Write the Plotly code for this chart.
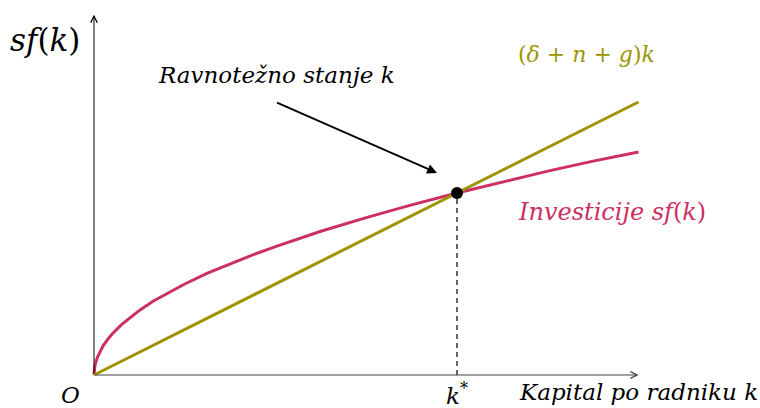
import plotly.graph_objects as go

# Solow steady-state diagram: investment curve sf(k) vs. break-even line (δ+n+g)k
capital = [0, 0.0025, 0.01, 0.02, 0.04, 0.07, 0.1, 0.15, 0.2, 0.3, 0.4, 0.5, 0.65, 0.8, 1.0,
           1.25, 1.5, 1.75, 2.0, 2.5, 3.0, 3.5, 4.0, 4.5, 5.0, 5.5, 6.0]
investment = [0, 0.05, 0.1, 0.14, 0.2, 0.26, 0.32, 0.39, 0.45, 0.55, 0.63, 0.71, 0.81, 0.89, 1.0,
              1.12, 1.22, 1.32, 1.41, 1.58, 1.73, 1.87, 2.0, 2.12, 2.24, 2.35, 2.45]
breakeven_k = [0, 6]
breakeven_y = [0, 3]
k_star = 4
y_star = 2
x_axis_end = 6
y_axis_end = 3.96

OLIVE = "#9b9500"
CRIMSON = "#cc2f62"
FONT = "DejaVu Serif"

W, H = 760, 408
X0_PX, Y0_PX = 94, 375       # origin position in the canvas
SX, SY = 90.75, 91.0         # pixels per data unit

x_range = [-X0_PX / SX, (W - X0_PX) / SX]
y_range = [-(H - Y0_PX) / SY, Y0_PX / SY]


def px(x, y):
    """Canvas pixel -> paper coordinates (used for free-standing labels)."""
    return x / W, 1 - y / H


fig = go.Figure()

fig.add_trace(go.Scatter(x=capital, y=investment, mode="lines",
                         line=dict(color=CRIMSON, width=3),
                         hoverinfo="skip"))
fig.add_trace(go.Scatter(x=breakeven_k, y=breakeven_y, mode="lines",
                         line=dict(color=OLIVE, width=3), hoverinfo="skip"))

# dashed drop line to k*
fig.add_shape(type="line", x0=k_star, y0=0, x1=k_star, y1=y_star,
              line=dict(color="black", width=1.2, dash="5px,4px"), layer="below")

fig.add_trace(go.Scatter(x=[k_star], y=[y_star], mode="markers",
                         marker=dict(color="black", size=12), hoverinfo="skip"))

# axes with open arrowheads
fig.add_annotation(x=x_axis_end, y=0, ax=0, ay=0, xref="x", yref="y", axref="x", ayref="y",
                   showarrow=True, arrowhead=5, arrowsize=1.3, arrowwidth=1, arrowcolor="#444", text="")
fig.add_annotation(x=0, y=y_axis_end, ax=0, ay=0, xref="x", yref="y", axref="x", ayref="y",
                   showarrow=True, arrowhead=5, arrowsize=1.3, arrowwidth=1, arrowcolor="black", text="")

# arrow pointing at the steady state
fig.add_annotation(x=3.78, y=2.22, ax=2.0, ay=3.0, xref="x", yref="y", axref="x", ayref="y",
                   showarrow=True, arrowhead=2, arrowsize=1.1, arrowwidth=1.8, arrowcolor="black", text="")

labels = [
    ("<i>sf</i>(<i>k</i>)", 45, 40, "black", 31),
    ("<i>Ravnotežno stanje k</i>", 276, 75, "black", 23),
    ("(<i>δ</i> + <i>n</i> + <i>g</i>)<i>k</i>", 586, 55, OLIVE, 22),
    ("<i>Investicije sf</i>(<i>k</i>)", 612, 212, CRIMSON, 24),
    ("<i>O</i>", 70, 395, "black", 23),
    ("<i>k</i><sup>*</sup>", 457, 394, "black", 23),
    ("<i>Kapital po radniku k</i>", 638, 392, "black", 23),
]
for text, x, y, color, size in labels:
    xp, yp = px(x, y)
    fig.add_annotation(x=xp, y=yp, xref="paper", yref="paper", text=text, showarrow=False,
                       xanchor="center", yanchor="middle",
                       font=dict(family=FONT, size=size, color=color))

fig.update_layout(
    width=W, height=H, margin=dict(l=0, r=0, t=0, b=0),
    paper_bgcolor="white", plot_bgcolor="white", showlegend=False,
    xaxis=dict(range=x_range, visible=False, fixedrange=True),
    yaxis=dict(range=y_range, visible=False, fixedrange=True),
)

fig.write_html("out.html")
